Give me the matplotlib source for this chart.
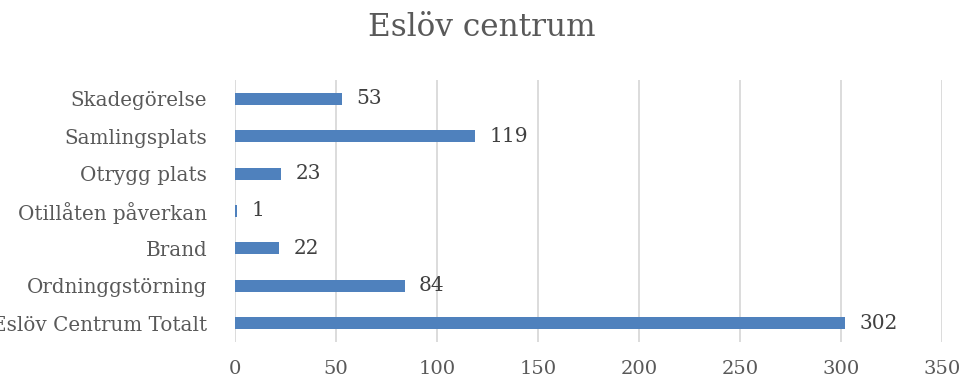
import matplotlib

matplotlib.use("Agg")
import matplotlib.pyplot as plt
import numpy as np

categories = ["Eslöv Centrum Totalt", "Ordninggstörning", "Brand",
              "Otillåten påverkan", "Otrygg plats", "Samlingsplats", "Skadegörelse"]
counts = [302, 84, 22, 1, 23, 119, 53]
xticks = [0, 50, 100, 150, 200, 250, 300, 350]

BAR = "#4f81bd"
TXT = "#595959"
GRID = "#d9d9d9"

plt.rcParams["font.family"] = ["DejaVu Serif"]

fig = plt.figure(figsize=(9.64, 3.8), dpi=100)
ax = fig.add_axes([235 / 964, 1 - 342 / 380, (942 - 235) / 964, (342 - 80) / 380])

y = np.arange(len(categories))
ax.barh(y, counts, height=0.32, color=BAR, zorder=3)
for yi, v in zip(y, counts):
    ax.text(v + 7, yi, str(v), va="center", ha="left", fontsize=14.5, color="#404040")

ax.set_xlim(0, 350)
ax.set_ylim(-0.5, len(categories) - 0.5)
ax.set_xticks(xticks)
ax.set_yticks(y)
ax.set_yticklabels(categories)
ax.tick_params(axis="both", length=0, colors=TXT)
ax.tick_params(axis="y", pad=20, labelsize=14.3)
ax.tick_params(axis="x", pad=13, labelsize=14)
ax.grid(axis="x", color=GRID, lw=1.3, zorder=0)
for s in ax.spines.values():
    s.set_visible(False)

fig.text(0.5, 1 - 28 / 380, "Eslöv centrum", ha="center", va="center", fontsize=22.4, color=TXT)

fig.savefig("out.png", dpi=100)
